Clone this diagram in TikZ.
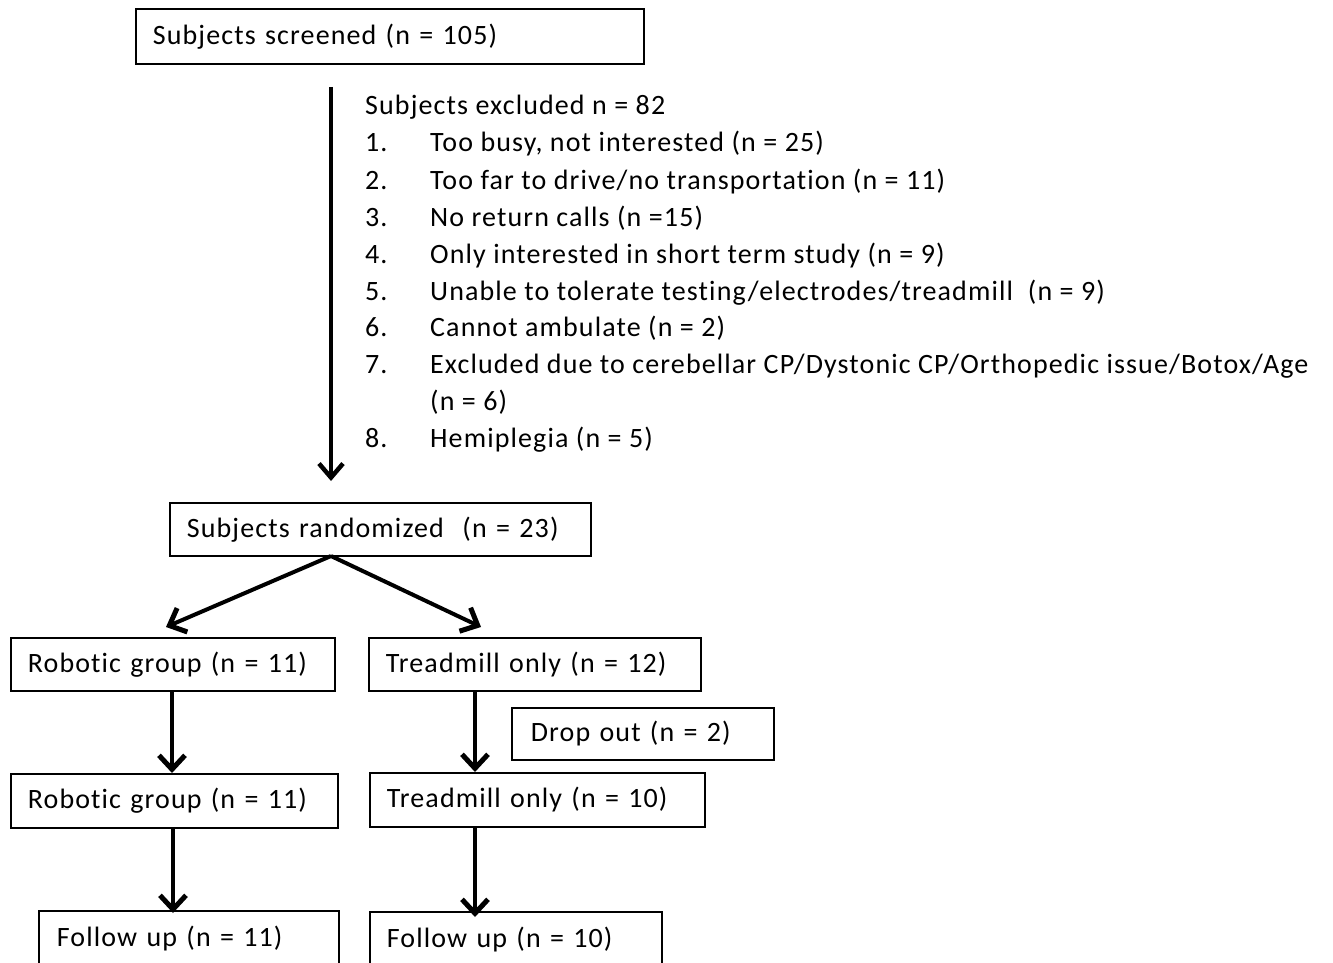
\documentclass[tikz,border=0pt]{standalone}
\usepackage{fontspec}
\setmainfont{Carlito}[LetterSpace=4,Ligatures=NoCommon]
\usetikzlibrary{arrows.meta,calc}
\begin{document}
\begin{tikzpicture}[x=1pt,y=-1pt,
  box/.style={draw, line width=1.8pt, inner xsep=17pt, inner ysep=0pt, anchor=north west, align=left, font=\fontsize{28}{33}\selectfont},
  txt/.style={anchor=base west, inner sep=0pt, font=\fontsize{28}{33}\selectfont},
  arr/.style={line width=4pt, -{Straight Barb[length=14pt,width=26pt,line width=5pt]}},
  arrthin/.style={line width=3.5pt, -{Straight Barb[length=14pt,width=24pt,line width=4.5pt]}}]
\useasboundingbox (0,0) rectangle (1333,963);
\clip (0,0) rectangle (1333,963);
% boxes
\node[box, text width=474pt, minimum height=55pt] (screened) at (135,8) {\mbox{Subjects screened (n = 105)}};
\node[box, text width=387pt, minimum height=53pt] (rand) at (169,502) {\mbox{Subjects randomized\ \ (n = 23)}};
\node[box, text width=290pt, minimum height=53pt] (rob1) at (10,637) {\mbox{Robotic group (n = 11)}};
\node[box, text width=298pt, minimum height=53pt] (tm1) at (368,637) {\mbox{Treadmill only (n = 12)}};
\node[box, text width=224pt, minimum height=52pt, inner xsep=19pt] (drop) at (511,707) {\mbox{Drop out (n = 2)}};
\node[box, text width=293pt, minimum height=54pt] (rob2) at (10,773) {\mbox{Robotic group (n = 11)}};
\node[box, text width=301pt, minimum height=54pt] (tm2) at (369,772) {\mbox{Treadmill only (n = 10)}};
\node[box, text width=264pt, minimum height=56pt, inner xsep=18pt] (fu1) at (38,910) {\mbox{Follow up (n = 11)}};
\node[box, text width=258pt, minimum height=56pt] (fu2) at (369,911) {\mbox{Follow up (n = 10)}};
% exclusion text
\node[txt] (exh) at (365,115) {Subjects excluded n = 82};
\foreach \n/\y/\t in {1/152/{Too busy, not interested (n = 25)},
  2/189/{Too far to drive/no transportation (n = 11)},
  3/226/{No return calls (n =15)},
  4/263/{Only interested in short term study (n = 9)},
  5/300/{Unable to tolerate testing/electrodes/treadmill\ \ (n = 9)},
  6/336/{Cannot ambulate (n = 2)},
  7/373/{Excluded due to cerebellar CP/Dystonic CP/Orthopedic issue/Botox/Age},
  8/447/{Hemiplegia (n = 5)}}{
  \node[txt] (num\n) at (365,\y) {\n.};
  \node[txt] (item\n) at (430,\y) {\t};
}
\node[txt] (item7b) at (430,410) {(n = 6)};
% connectors
\coordinate (a1) at (331,87);
\coordinate (a2) at (331,481);
\draw[arrthin] (a1) -- (a2);
\coordinate (r0) at (331,556);
\coordinate (rl) at (166,627);
\coordinate (rr) at (481,627);
\draw[arr] (r0) -- (rl);
\draw[arr] (r0) -- (rr);
\draw[arr] (rob1.south -| 172,0) -- (rob2.north -| 172,0);
\draw[arr] (tm1.south -| 475,0) -- (tm2.north -| 475,0);
\draw[arr] (rob2.south -| 173,0) -- ([yshift=-3pt]fu1.north -| 173,0);
\draw[arr] (tm2.south -| 475,0) -- ([yshift=-6pt]fu2.north -| 475,0);
\end{tikzpicture}
\end{document}
